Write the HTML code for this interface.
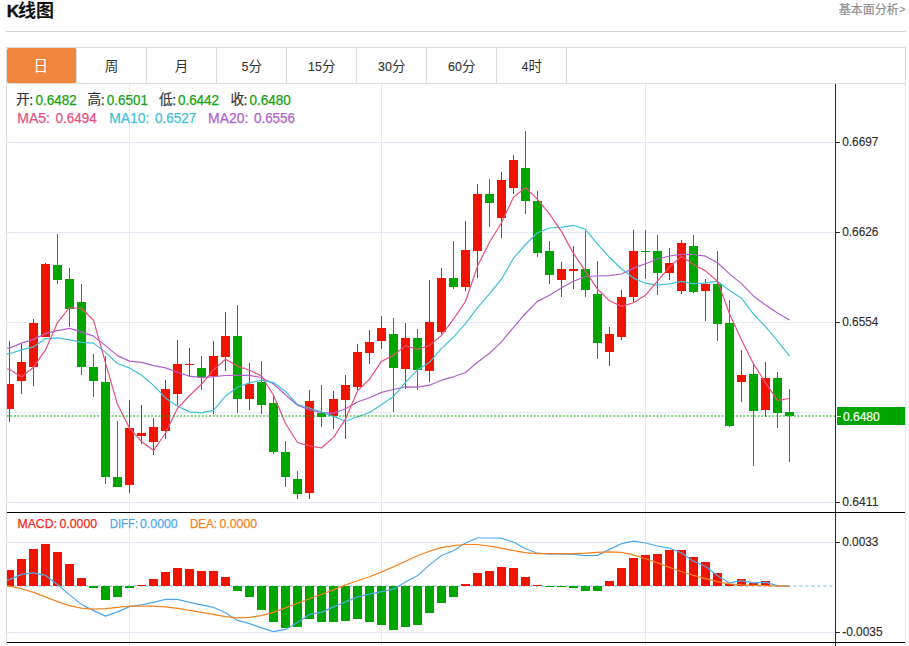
<!DOCTYPE html>
<html lang="zh-CN">
<head>
<meta charset="utf-8">
<title>K线图</title>
<style>
html,body{margin:0;padding:0;background:#fff;}
body{width:909px;height:646px;overflow:hidden;position:relative;font-family:"Liberation Sans",sans-serif;}
.rule{position:absolute;left:6px;top:31px;width:900px;height:1px;background:#d4d4d4;}
.tabs{position:absolute;left:6px;top:47px;width:898px;height:35px;border:1px solid #dcdcdc;background:#fff;}
.tab{position:absolute;top:0;width:69px;height:35px;border-right:1px solid #dcdcdc;}
.tab.on{background:#f0853d;border-radius:2px;}
svg.layer{position:absolute;left:0;top:0;}
</style>
</head>
<body>
<div class="rule"></div>
<div class="tabs">
<div class="tab on" style="left:0px"></div>
<div class="tab" style="left:70px"></div>
<div class="tab" style="left:140px"></div>
<div class="tab" style="left:210px"></div>
<div class="tab" style="left:280px"></div>
<div class="tab" style="left:350px"></div>
<div class="tab" style="left:420px"></div>
<div class="tab" style="left:490px"></div>
</div>
<svg class="layer" width="909" height="646" viewBox="0 0 909 646">
<g shape-rendering="crispEdges" fill="#e2ebf3">
<rect x="7" y="142" width="828" height="1"/>
<rect x="7" y="232" width="828" height="1"/>
<rect x="7" y="322" width="828" height="1"/>
<rect x="7" y="412" width="828" height="1"/>
<rect x="7" y="502" width="828" height="1"/>
<rect x="7" y="542" width="828" height="1"/>
<rect x="7" y="632" width="828" height="1"/>
<rect x="129" y="84" width="1" height="562"/>
<rect x="381" y="84" width="1" height="562"/>
<rect x="645" y="84" width="1" height="562"/>
</g>
<g shape-rendering="crispEdges">
<rect x="6" y="84" width="1" height="562" fill="#dcdcdc"/>
<rect x="905" y="84" width="1" height="562" fill="#e4e4e4"/>
</g>
<line x1="7.4" y1="586" x2="833" y2="586" stroke="#b4def5" stroke-width="2" stroke-dasharray="3 3"/>
<g shape-rendering="crispEdges">
<rect x="9" y="341" width="1" height="81" fill="#ee1400"/>
<rect x="7" y="384" width="7" height="25" fill="#ee1400"/>
<rect x="21" y="344" width="1" height="50" fill="#ee1400"/>
<rect x="17" y="362" width="9" height="19" fill="#ee1400"/>
<rect x="33" y="319" width="1" height="67" fill="#ee1400"/>
<rect x="29" y="323" width="9" height="44" fill="#ee1400"/>
<rect x="45" y="263" width="1" height="74" fill="#ee1400"/>
<rect x="41" y="264" width="9" height="73" fill="#ee1400"/>
<rect x="57" y="234" width="1" height="50" fill="#00a500"/>
<rect x="53" y="265" width="9" height="15" fill="#00a500"/>
<rect x="69" y="268" width="1" height="59" fill="#00a500"/>
<rect x="65" y="279" width="9" height="30" fill="#00a500"/>
<rect x="81" y="284" width="1" height="91" fill="#00a500"/>
<rect x="77" y="302" width="9" height="65" fill="#00a500"/>
<rect x="93" y="354" width="1" height="43" fill="#00a500"/>
<rect x="89" y="367" width="9" height="14" fill="#00a500"/>
<rect x="105" y="356" width="1" height="128" fill="#00a500"/>
<rect x="101" y="382" width="9" height="95" fill="#00a500"/>
<rect x="117" y="421" width="1" height="66" fill="#00a500"/>
<rect x="113" y="477" width="9" height="10" fill="#00a500"/>
<rect x="129" y="400" width="1" height="93" fill="#ee1400"/>
<rect x="125" y="428" width="9" height="57" fill="#ee1400"/>
<rect x="141" y="405" width="1" height="39" fill="#ee1400"/>
<rect x="137" y="433" width="9" height="3" fill="#ee1400"/>
<rect x="153" y="418" width="1" height="37" fill="#ee1400"/>
<rect x="149" y="427" width="9" height="15" fill="#ee1400"/>
<rect x="165" y="380" width="1" height="59" fill="#ee1400"/>
<rect x="161" y="389" width="9" height="42" fill="#ee1400"/>
<rect x="177" y="340" width="1" height="65" fill="#ee1400"/>
<rect x="173" y="364" width="9" height="30" fill="#ee1400"/>
<rect x="189" y="348" width="1" height="29" fill="#ee1400"/>
<rect x="185" y="364" width="9" height="1" fill="#ee1400"/>
<rect x="201" y="356" width="1" height="34" fill="#00a500"/>
<rect x="197" y="368" width="9" height="9" fill="#00a500"/>
<rect x="213" y="341" width="1" height="73" fill="#ee1400"/>
<rect x="209" y="356" width="9" height="20" fill="#ee1400"/>
<rect x="225" y="312" width="1" height="59" fill="#ee1400"/>
<rect x="221" y="336" width="9" height="21" fill="#ee1400"/>
<rect x="237" y="305" width="1" height="108" fill="#00a500"/>
<rect x="233" y="336" width="9" height="63" fill="#00a500"/>
<rect x="249" y="363" width="1" height="47" fill="#ee1400"/>
<rect x="245" y="384" width="9" height="15" fill="#ee1400"/>
<rect x="261" y="361" width="1" height="53" fill="#00a500"/>
<rect x="257" y="382" width="9" height="23" fill="#00a500"/>
<rect x="273" y="396" width="1" height="58" fill="#00a500"/>
<rect x="269" y="403" width="9" height="49" fill="#00a500"/>
<rect x="285" y="441" width="1" height="46" fill="#00a500"/>
<rect x="281" y="452" width="9" height="25" fill="#00a500"/>
<rect x="297" y="471" width="1" height="28" fill="#00a500"/>
<rect x="293" y="479" width="9" height="15" fill="#00a500"/>
<rect x="309" y="390" width="1" height="109" fill="#ee1400"/>
<rect x="305" y="401" width="9" height="92" fill="#ee1400"/>
<rect x="321" y="385" width="1" height="42" fill="#00a500"/>
<rect x="317" y="413" width="9" height="4" fill="#00a500"/>
<rect x="333" y="391" width="1" height="38" fill="#ee1400"/>
<rect x="329" y="399" width="9" height="17" fill="#ee1400"/>
<rect x="345" y="375" width="1" height="64" fill="#ee1400"/>
<rect x="341" y="385" width="9" height="15" fill="#ee1400"/>
<rect x="357" y="344" width="1" height="46" fill="#ee1400"/>
<rect x="353" y="352" width="9" height="35" fill="#ee1400"/>
<rect x="369" y="330" width="1" height="34" fill="#ee1400"/>
<rect x="365" y="342" width="9" height="11" fill="#ee1400"/>
<rect x="381" y="316" width="1" height="33" fill="#ee1400"/>
<rect x="377" y="328" width="9" height="13" fill="#ee1400"/>
<rect x="393" y="318" width="1" height="94" fill="#00a500"/>
<rect x="389" y="334" width="9" height="34" fill="#00a500"/>
<rect x="405" y="323" width="1" height="66" fill="#ee1400"/>
<rect x="401" y="338" width="9" height="31" fill="#ee1400"/>
<rect x="417" y="329" width="1" height="61" fill="#00a500"/>
<rect x="413" y="338" width="9" height="32" fill="#00a500"/>
<rect x="429" y="280" width="1" height="102" fill="#ee1400"/>
<rect x="425" y="322" width="9" height="49" fill="#ee1400"/>
<rect x="441" y="268" width="1" height="66" fill="#ee1400"/>
<rect x="437" y="278" width="9" height="54" fill="#ee1400"/>
<rect x="453" y="241" width="1" height="48" fill="#00a500"/>
<rect x="449" y="278" width="9" height="9" fill="#00a500"/>
<rect x="465" y="221" width="1" height="70" fill="#ee1400"/>
<rect x="461" y="250" width="9" height="37" fill="#ee1400"/>
<rect x="477" y="184" width="1" height="94" fill="#ee1400"/>
<rect x="473" y="194" width="9" height="57" fill="#ee1400"/>
<rect x="489" y="179" width="1" height="48" fill="#00a500"/>
<rect x="485" y="194" width="9" height="9" fill="#00a500"/>
<rect x="501" y="172" width="1" height="66" fill="#ee1400"/>
<rect x="497" y="180" width="9" height="38" fill="#ee1400"/>
<rect x="513" y="155" width="1" height="39" fill="#ee1400"/>
<rect x="509" y="160" width="9" height="28" fill="#ee1400"/>
<rect x="525" y="131" width="1" height="83" fill="#00a500"/>
<rect x="521" y="168" width="9" height="33" fill="#00a500"/>
<rect x="537" y="191" width="1" height="66" fill="#00a500"/>
<rect x="533" y="201" width="9" height="52" fill="#00a500"/>
<rect x="549" y="241" width="1" height="43" fill="#00a500"/>
<rect x="545" y="251" width="9" height="24" fill="#00a500"/>
<rect x="561" y="262" width="1" height="35" fill="#ee1400"/>
<rect x="557" y="269" width="9" height="11" fill="#ee1400"/>
<rect x="573" y="246" width="1" height="43" fill="#ee1400"/>
<rect x="569" y="269" width="9" height="2" fill="#ee1400"/>
<rect x="585" y="231" width="1" height="66" fill="#00a500"/>
<rect x="581" y="269" width="9" height="21" fill="#00a500"/>
<rect x="597" y="261" width="1" height="98" fill="#00a500"/>
<rect x="593" y="294" width="9" height="49" fill="#00a500"/>
<rect x="609" y="327" width="1" height="39" fill="#ee1400"/>
<rect x="605" y="334" width="9" height="18" fill="#ee1400"/>
<rect x="621" y="290" width="1" height="50" fill="#ee1400"/>
<rect x="617" y="297" width="9" height="40" fill="#ee1400"/>
<rect x="633" y="230" width="1" height="72" fill="#ee1400"/>
<rect x="629" y="251" width="9" height="46" fill="#ee1400"/>
<rect x="645" y="230" width="1" height="49" fill="#00a500"/>
<rect x="641" y="251" width="9" height="1" fill="#00a500"/>
<rect x="657" y="235" width="1" height="60" fill="#00a500"/>
<rect x="653" y="251" width="9" height="22" fill="#00a500"/>
<rect x="669" y="248" width="1" height="32" fill="#ee1400"/>
<rect x="665" y="263" width="9" height="10" fill="#ee1400"/>
<rect x="681" y="240" width="1" height="54" fill="#ee1400"/>
<rect x="677" y="243" width="9" height="48" fill="#ee1400"/>
<rect x="693" y="235" width="1" height="58" fill="#00a500"/>
<rect x="689" y="246" width="9" height="46" fill="#00a500"/>
<rect x="705" y="279" width="1" height="42" fill="#ee1400"/>
<rect x="701" y="284" width="9" height="7" fill="#ee1400"/>
<rect x="717" y="251" width="1" height="90" fill="#00a500"/>
<rect x="713" y="284" width="9" height="40" fill="#00a500"/>
<rect x="729" y="300" width="1" height="127" fill="#00a500"/>
<rect x="725" y="323" width="9" height="103" fill="#00a500"/>
<rect x="741" y="350" width="1" height="52" fill="#ee1400"/>
<rect x="737" y="375" width="9" height="7" fill="#ee1400"/>
<rect x="753" y="364" width="1" height="102" fill="#00a500"/>
<rect x="749" y="374" width="9" height="37" fill="#00a500"/>
<rect x="765" y="362" width="1" height="55" fill="#ee1400"/>
<rect x="761" y="378" width="9" height="32" fill="#ee1400"/>
<rect x="777" y="372" width="1" height="56" fill="#00a500"/>
<rect x="773" y="378" width="9" height="35" fill="#00a500"/>
<rect x="789" y="389" width="1" height="73" fill="#00a500"/>
<rect x="785" y="412" width="9" height="4" fill="#00a500"/>
</g>
<path d="M7.0 348.0 L9.5 348.1 L21.5 343.1 L33.5 339.4 L45.5 333.6 L57.5 330.6 L69.5 328.4 L81.5 331.9 L93.5 336.1 L105.5 345.6 L117.5 355.6 L129.5 361.1 L141.5 362.4 L153.5 365.6 L165.5 367.9 L177.5 372.3 L189.5 376.1 L201.5 377.6 L213.5 376.6 L225.5 375.5 L237.5 375.4 L249.5 375.4 L261.5 377.5 L273.5 384.0 L285.5 394.7 L297.5 405.3 L309.5 409.9 L321.5 412.4 L333.5 413.3 L345.5 408.7 L357.5 402.0 L369.5 397.7 L381.5 392.4 L393.5 389.5 L405.5 386.9 L417.5 387.2 L429.5 385.2 L441.5 380.2 L453.5 376.8 L465.5 372.5 L477.5 362.2 L489.5 353.2 L501.5 341.9 L513.5 327.3 L525.5 313.5 L537.5 301.4 L549.5 295.2 L561.5 287.8 L573.5 281.3 L585.5 276.5 L597.5 276.0 L609.5 275.6 L621.5 274.0 L633.5 268.1 L645.5 263.8 L657.5 259.0 L669.5 256.0 L681.5 254.3 L693.5 254.5 L705.5 256.2 L717.5 262.7 L729.5 273.9 L741.5 283.6 L753.5 296.1 L765.5 305.0 L777.5 313.0 L789.5 320.0" fill="none" stroke="#b25fcc" stroke-width="1.2" stroke-linejoin="round"/>
<path d="M7.0 353.8 L9.5 353.8 L21.5 349.9 L33.5 346.9 L45.5 338.6 L57.5 337.9 L69.5 339.9 L81.5 342.4 L93.5 343.1 L105.5 352.4 L117.5 363.5 L129.5 367.9 L141.5 375.0 L153.5 385.4 L165.5 397.9 L177.5 406.3 L189.5 411.9 L201.5 412.9 L213.5 410.3 L225.5 396.1 L237.5 387.2 L249.5 382.9 L261.5 380.1 L273.5 382.6 L285.5 391.4 L297.5 404.3 L309.5 408.0 L321.5 412.0 L333.5 416.4 L345.5 421.3 L357.5 416.7 L369.5 412.5 L381.5 404.7 L393.5 396.3 L405.5 382.4 L417.5 370.1 L429.5 362.3 L441.5 348.4 L453.5 337.2 L465.5 323.6 L477.5 307.7 L489.5 293.8 L501.5 279.0 L513.5 258.2 L525.5 244.5 L537.5 232.7 L549.5 228.0 L561.5 227.1 L573.5 225.3 L585.5 229.4 L597.5 244.2 L609.5 257.3 L621.5 269.0 L633.5 278.1 L645.5 283.2 L657.5 285.2 L669.5 283.9 L681.5 281.4 L693.5 283.6 L705.5 283.1 L717.5 281.2 L729.5 290.4 L741.5 298.2 L753.5 314.2 L765.5 326.7 L777.5 340.8 L789.5 356.1" fill="none" stroke="#3fc1dc" stroke-width="1.2" stroke-linejoin="round"/>
<path d="M7.0 369.0 L9.5 369.3 L21.5 377.0 L33.5 367.2 L45.5 349.9 L57.5 322.6 L69.5 307.5 L81.5 308.5 L93.5 320.2 L105.5 362.9 L117.5 404.3 L129.5 428.2 L141.5 441.5 L153.5 450.6 L165.5 433.0 L177.5 408.3 L189.5 395.5 L201.5 384.3 L213.5 370.0 L225.5 359.2 L237.5 366.1 L249.5 370.2 L261.5 375.9 L273.5 395.3 L285.5 423.5 L297.5 442.5 L309.5 445.8 L321.5 448.0 L333.5 437.4 L345.5 419.1 L357.5 390.9 L369.5 379.2 L381.5 361.4 L393.5 355.2 L405.5 345.8 L417.5 349.4 L429.5 345.5 L441.5 335.4 L453.5 319.2 L465.5 301.5 L477.5 266.1 L489.5 242.2 L501.5 222.7 L513.5 197.3 L525.5 187.6 L537.5 199.4 L549.5 213.8 L561.5 231.6 L573.5 253.4 L585.5 271.2 L597.5 289.1 L609.5 300.8 L621.5 306.4 L633.5 302.7 L645.5 295.2 L657.5 281.2 L669.5 267.1 L681.5 256.3 L693.5 264.5 L705.5 270.9 L717.5 281.2 L729.5 313.7 L741.5 340.1 L753.5 363.9 L765.5 382.6 L777.5 400.4 L789.5 398.5" fill="none" stroke="#e8507f" stroke-width="1.2" stroke-linejoin="round"/>
<g shape-rendering="crispEdges">
<rect x="7" y="570" width="7" height="16" fill="#ee1400"/>
<rect x="17" y="559" width="9" height="27" fill="#ee1400"/>
<rect x="29" y="549" width="9" height="37" fill="#ee1400"/>
<rect x="41" y="544" width="9" height="42" fill="#ee1400"/>
<rect x="53" y="552" width="9" height="34" fill="#ee1400"/>
<rect x="65" y="564" width="9" height="22" fill="#ee1400"/>
<rect x="77" y="578" width="9" height="8" fill="#ee1400"/>
<rect x="89" y="586" width="9" height="2" fill="#00a500"/>
<rect x="101" y="586" width="9" height="14" fill="#00a500"/>
<rect x="113" y="586" width="9" height="11" fill="#00a500"/>
<rect x="125" y="586" width="9" height="2" fill="#00a500"/>
<rect x="137" y="585" width="9" height="1" fill="#ee1400"/>
<rect x="149" y="579" width="9" height="7" fill="#ee1400"/>
<rect x="161" y="572" width="9" height="14" fill="#ee1400"/>
<rect x="173" y="568" width="9" height="18" fill="#ee1400"/>
<rect x="185" y="569" width="9" height="17" fill="#ee1400"/>
<rect x="197" y="571" width="9" height="15" fill="#ee1400"/>
<rect x="209" y="571" width="9" height="15" fill="#ee1400"/>
<rect x="221" y="577" width="9" height="9" fill="#ee1400"/>
<rect x="233" y="586" width="9" height="5" fill="#00a500"/>
<rect x="245" y="586" width="9" height="11" fill="#00a500"/>
<rect x="257" y="586" width="9" height="24" fill="#00a500"/>
<rect x="269" y="586" width="9" height="36" fill="#00a500"/>
<rect x="281" y="586" width="9" height="42" fill="#00a500"/>
<rect x="293" y="586" width="9" height="41" fill="#00a500"/>
<rect x="305" y="586" width="9" height="33" fill="#00a500"/>
<rect x="317" y="586" width="9" height="36" fill="#00a500"/>
<rect x="329" y="586" width="9" height="36" fill="#00a500"/>
<rect x="341" y="586" width="9" height="35" fill="#00a500"/>
<rect x="353" y="586" width="9" height="33" fill="#00a500"/>
<rect x="365" y="586" width="9" height="36" fill="#00a500"/>
<rect x="377" y="586" width="9" height="39" fill="#00a500"/>
<rect x="389" y="586" width="9" height="44" fill="#00a500"/>
<rect x="401" y="586" width="9" height="41" fill="#00a500"/>
<rect x="413" y="586" width="9" height="39" fill="#00a500"/>
<rect x="425" y="586" width="9" height="27" fill="#00a500"/>
<rect x="437" y="586" width="9" height="17" fill="#00a500"/>
<rect x="449" y="586" width="9" height="11" fill="#00a500"/>
<rect x="461" y="584" width="9" height="2" fill="#ee1400"/>
<rect x="473" y="573" width="9" height="13" fill="#ee1400"/>
<rect x="485" y="571" width="9" height="15" fill="#ee1400"/>
<rect x="497" y="567" width="9" height="19" fill="#ee1400"/>
<rect x="509" y="568" width="9" height="18" fill="#ee1400"/>
<rect x="521" y="577" width="9" height="9" fill="#ee1400"/>
<rect x="533" y="585" width="9" height="1" fill="#ee1400"/>
<rect x="545" y="586" width="9" height="1" fill="#00a500"/>
<rect x="557" y="586" width="9" height="1" fill="#00a500"/>
<rect x="569" y="586" width="9" height="2" fill="#00a500"/>
<rect x="581" y="586" width="9" height="5" fill="#00a500"/>
<rect x="593" y="586" width="9" height="5" fill="#00a500"/>
<rect x="605" y="581" width="9" height="5" fill="#ee1400"/>
<rect x="617" y="568" width="9" height="18" fill="#ee1400"/>
<rect x="629" y="558" width="9" height="28" fill="#ee1400"/>
<rect x="641" y="555" width="9" height="31" fill="#ee1400"/>
<rect x="653" y="554" width="9" height="32" fill="#ee1400"/>
<rect x="665" y="550" width="9" height="36" fill="#ee1400"/>
<rect x="677" y="550" width="9" height="36" fill="#ee1400"/>
<rect x="689" y="557" width="9" height="29" fill="#ee1400"/>
<rect x="701" y="562" width="9" height="24" fill="#ee1400"/>
<rect x="713" y="573" width="9" height="13" fill="#ee1400"/>
<rect x="725" y="584" width="9" height="2" fill="#ee1400"/>
<rect x="737" y="579" width="9" height="7" fill="#ee1400"/>
<rect x="749" y="583" width="9" height="3" fill="#ee1400"/>
<rect x="761" y="581" width="9" height="5" fill="#ee1400"/>
</g>
<path d="M7.0 579.8 L9.5 579.6 L21.5 574.4 L33.5 572.9 L45.5 575.4 L57.5 584.4 L69.5 594.9 L81.5 604.4 L93.5 610.6 L105.5 616.1 L117.5 611.9 L129.5 606.6 L141.5 604.9 L153.5 602.4 L165.5 599.4 L177.5 599.4 L189.5 602.4 L201.5 604.9 L213.5 607.4 L225.5 612.8 L237.5 620.4 L249.5 623.6 L261.5 627.9 L273.5 631.6 L285.5 629.4 L297.5 622.4 L309.5 614.4 L321.5 612.4 L333.5 606.9 L345.5 601.9 L357.5 596.9 L369.5 594.2 L381.5 591.7 L393.5 589.2 L405.5 581.9 L417.5 575.7 L429.5 564.9 L441.5 555.5 L453.5 550.7 L465.5 543.0 L477.5 538.0 L489.5 538.0 L501.5 538.2 L513.5 542.0 L525.5 548.7 L537.5 553.2 L549.5 554.2 L561.5 554.2 L573.5 554.4 L585.5 555.7 L597.5 555.4 L609.5 549.4 L621.5 543.7 L633.5 541.2 L645.5 543.0 L657.5 546.0 L669.5 548.2 L681.5 552.9 L693.5 561.2 L705.5 566.2 L717.5 575.7 L729.5 582.9 L741.5 580.7 L753.5 582.9 L765.5 582.4 L777.5 585.7 L789.5 586.2" fill="none" stroke="#4fa8ee" stroke-width="1.2" stroke-linejoin="round"/>
<path d="M7.0 585.9 L9.5 586.2 L21.5 588.7 L33.5 592.4 L45.5 596.9 L57.5 601.6 L69.5 605.6 L81.5 608.1 L93.5 609.1 L105.5 608.6 L117.5 607.4 L129.5 606.1 L141.5 606.1 L153.5 606.1 L165.5 606.9 L177.5 608.4 L189.5 610.4 L201.5 612.4 L213.5 614.4 L225.5 616.6 L237.5 617.9 L249.5 617.4 L261.5 615.6 L273.5 612.4 L285.5 607.9 L297.5 603.2 L309.5 598.7 L321.5 594.2 L333.5 589.9 L345.5 584.9 L357.5 580.7 L369.5 576.7 L381.5 571.9 L393.5 566.9 L405.5 561.2 L417.5 555.7 L429.5 551.2 L441.5 547.7 L453.5 545.7 L465.5 544.5 L477.5 544.5 L489.5 546.2 L501.5 548.2 L513.5 550.7 L525.5 552.7 L537.5 553.7 L549.5 553.7 L561.5 553.7 L573.5 553.7 L585.5 553.2 L597.5 552.4 L609.5 551.9 L621.5 552.4 L633.5 554.9 L645.5 558.7 L657.5 562.9 L669.5 567.4 L681.5 571.7 L693.5 575.4 L705.5 578.7 L717.5 581.7 L729.5 583.9 L741.5 584.9 L753.5 585.4 L765.5 585.7 L777.5 586.2 L789.5 586.2" fill="none" stroke="#f58220" stroke-width="1.2" stroke-linejoin="round"/>
<line x1="6.8" y1="416" x2="835" y2="416" stroke="rgba(0,162,0,0.48)" stroke-width="2" stroke-dasharray="2 1.61"/>
<g shape-rendering="crispEdges" fill="#000">
<rect x="835" y="84" width="1" height="562" fill="#2a2a2a"/>
<rect x="7" y="512" width="898" height="1"/>
<rect x="7" y="642" width="898" height="1"/>
<rect x="836" y="142" width="4" height="1" fill="#2a2a2a"/>
<rect x="836" y="232" width="4" height="1" fill="#2a2a2a"/>
<rect x="836" y="322" width="4" height="1" fill="#2a2a2a"/>
<rect x="836" y="502" width="4" height="1" fill="#2a2a2a"/>
<rect x="836" y="542" width="4" height="1" fill="#2a2a2a"/>
<rect x="836" y="632" width="4" height="1" fill="#2a2a2a"/>
</g>
<rect x="837" y="407" width="68" height="18" fill="#00a500" shape-rendering="crispEdges"/>
<rect x="837" y="416" width="4" height="1" fill="#fff" shape-rendering="crispEdges"/>
<text x="842.2" y="146.4" font-size="12.7" fill="#2b2b2b" font-family="Liberation Sans, sans-serif" stroke="#2b2b2b" stroke-width="0.12" textLength="36.2" lengthAdjust="spacingAndGlyphs">0.6697</text>
<text x="842.2" y="236.4" font-size="12.7" fill="#2b2b2b" font-family="Liberation Sans, sans-serif" stroke="#2b2b2b" stroke-width="0.12" textLength="36.2" lengthAdjust="spacingAndGlyphs">0.6626</text>
<text x="842.2" y="326.4" font-size="12.7" fill="#2b2b2b" font-family="Liberation Sans, sans-serif" stroke="#2b2b2b" stroke-width="0.12" textLength="36.2" lengthAdjust="spacingAndGlyphs">0.6554</text>
<text x="842.2" y="506.4" font-size="12.7" fill="#2b2b2b" font-family="Liberation Sans, sans-serif" stroke="#2b2b2b" stroke-width="0.12" textLength="36.2" lengthAdjust="spacingAndGlyphs">0.6411</text>
<text x="842.2" y="546.4" font-size="12.7" fill="#2b2b2b" font-family="Liberation Sans, sans-serif" stroke="#2b2b2b" stroke-width="0.12" textLength="36.2" lengthAdjust="spacingAndGlyphs">0.0033</text>
<text x="842.2" y="636.4" font-size="12.7" fill="#2b2b2b" font-family="Liberation Sans, sans-serif" stroke="#2b2b2b" stroke-width="0.12" textLength="40.4" lengthAdjust="spacingAndGlyphs">-0.0035</text>
<text x="842.9" y="420.5" font-size="12.8" fill="#fff" font-family="Liberation Sans, sans-serif" stroke="#fff" stroke-width="0.2" textLength="36.9" lengthAdjust="spacingAndGlyphs">0.6480</text>
<text x="16.1" y="104.2" font-size="13.6" fill="#333" stroke="#333" stroke-width="0.2" font-family="Liberation Sans, Noto Sans CJK SC, sans-serif">开</text>
<text x="29.2" y="104.5" font-size="14.2" fill="#333" font-family="Liberation Sans, sans-serif" stroke="#333" stroke-width="0.25">:</text>
<text x="35.6" y="104.6" font-size="14.4" fill="#12a312" font-family="Liberation Sans, sans-serif" stroke="#12a312" stroke-width="0.25" textLength="41.2" lengthAdjust="spacingAndGlyphs">0.6482</text>
<text x="87.6" y="104.2" font-size="13.6" fill="#333" stroke="#333" stroke-width="0.2" font-family="Liberation Sans, Noto Sans CJK SC, sans-serif">高</text>
<text x="100.7" y="104.5" font-size="14.2" fill="#333" font-family="Liberation Sans, sans-serif" stroke="#333" stroke-width="0.25">:</text>
<text x="106.7" y="104.6" font-size="14.4" fill="#12a312" font-family="Liberation Sans, sans-serif" stroke="#12a312" stroke-width="0.25" textLength="41.2" lengthAdjust="spacingAndGlyphs">0.6501</text>
<text x="159.1" y="104.2" font-size="13.6" fill="#333" stroke="#333" stroke-width="0.2" font-family="Liberation Sans, Noto Sans CJK SC, sans-serif">低</text>
<text x="172.2" y="104.5" font-size="14.2" fill="#333" font-family="Liberation Sans, sans-serif" stroke="#333" stroke-width="0.25">:</text>
<text x="177.9" y="104.6" font-size="14.4" fill="#12a312" font-family="Liberation Sans, sans-serif" stroke="#12a312" stroke-width="0.25" textLength="41.2" lengthAdjust="spacingAndGlyphs">0.6442</text>
<text x="230.5" y="104.2" font-size="13.6" fill="#333" stroke="#333" stroke-width="0.2" font-family="Liberation Sans, Noto Sans CJK SC, sans-serif">收</text>
<text x="243.6" y="104.5" font-size="14.2" fill="#333" font-family="Liberation Sans, sans-serif" stroke="#333" stroke-width="0.25">:</text>
<text x="249.5" y="104.6" font-size="14.4" fill="#12a312" font-family="Liberation Sans, sans-serif" stroke="#12a312" stroke-width="0.25" textLength="41.2" lengthAdjust="spacingAndGlyphs">0.6480</text>
<text x="17.3" y="123.2" font-size="14.4" fill="#e8507f" font-family="Liberation Sans, sans-serif" stroke="#e8507f" stroke-width="0.25" textLength="32.6" lengthAdjust="spacingAndGlyphs">MA5:</text>
<text x="55.6" y="123.2" font-size="14.4" fill="#e8507f" font-family="Liberation Sans, sans-serif" stroke="#e8507f" stroke-width="0.25" textLength="41.2" lengthAdjust="spacingAndGlyphs">0.6494</text>
<text x="109.2" y="123.2" font-size="14.4" fill="#3fc1dc" font-family="Liberation Sans, sans-serif" stroke="#3fc1dc" stroke-width="0.25" textLength="40.2" lengthAdjust="spacingAndGlyphs">MA10:</text>
<text x="155.0" y="123.2" font-size="14.4" fill="#3fc1dc" font-family="Liberation Sans, sans-serif" stroke="#3fc1dc" stroke-width="0.25" textLength="41.2" lengthAdjust="spacingAndGlyphs">0.6527</text>
<text x="208.1" y="123.2" font-size="14.4" fill="#b25fcc" font-family="Liberation Sans, sans-serif" stroke="#b25fcc" stroke-width="0.25" textLength="40.2" lengthAdjust="spacingAndGlyphs">MA20:</text>
<text x="253.9" y="123.2" font-size="14.4" fill="#b25fcc" font-family="Liberation Sans, sans-serif" stroke="#b25fcc" stroke-width="0.25" textLength="41.2" lengthAdjust="spacingAndGlyphs">0.6556</text>
<text x="17.4" y="528.3" font-size="12.8" fill="#ee2a1a" font-family="Liberation Sans, sans-serif" stroke="#ee2a1a" stroke-width="0.25" textLength="39.6" lengthAdjust="spacingAndGlyphs">MACD:</text>
<text x="59.4" y="528.3" font-size="12.8" fill="#ee2a1a" font-family="Liberation Sans, sans-serif" stroke="#ee2a1a" stroke-width="0.25" textLength="37.7" lengthAdjust="spacingAndGlyphs">0.0000</text>
<text x="109.7" y="528.3" font-size="12.8" fill="#4fa8ee" font-family="Liberation Sans, sans-serif" stroke="#4fa8ee" stroke-width="0.25" textLength="28.4" lengthAdjust="spacingAndGlyphs">DIFF:</text>
<text x="140.0" y="528.3" font-size="12.8" fill="#4fa8ee" font-family="Liberation Sans, sans-serif" stroke="#4fa8ee" stroke-width="0.25" textLength="37.7" lengthAdjust="spacingAndGlyphs">0.0000</text>
<text x="190.0" y="528.3" font-size="12.8" fill="#f58220" font-family="Liberation Sans, sans-serif" stroke="#f58220" stroke-width="0.25" textLength="27.0" lengthAdjust="spacingAndGlyphs">DEA:</text>
<text x="219.4" y="528.3" font-size="12.8" fill="#f58220" font-family="Liberation Sans, sans-serif" stroke="#f58220" stroke-width="0.25" textLength="37.7" lengthAdjust="spacingAndGlyphs">0.0000</text>
<text x="6.8" y="16.6" font-size="17.2" fill="#111" stroke="#111" stroke-width="0.4" font-weight="bold" font-family="Liberation Sans, sans-serif">K</text>
<text x="18" y="17" font-size="18" font-weight="bold" fill="#111" font-family="Liberation Sans, Noto Sans CJK SC, sans-serif">线图</text>
<text x="838.7" y="14" font-size="12" fill="#939393" stroke="#939393" stroke-width="0.25" font-family="Liberation Sans, Noto Sans CJK SC, sans-serif">基本面分析</text>
<text x="899.6" y="13.2" font-size="10" fill="#939393" font-family="Liberation Sans, sans-serif" stroke="#939393" stroke-width="0.25">&gt;</text>
<text x="33.6" y="71.1" font-size="14.5" fill="#fff" font-family="Liberation Sans, Noto Sans CJK SC, sans-serif">日</text>
<text x="104.75" y="71.2" font-size="13.5" fill="#333" font-family="Liberation Sans, Noto Sans CJK SC, sans-serif">周</text>
<text x="174.75" y="71.2" font-size="13.5" fill="#333" font-family="Liberation Sans, Noto Sans CJK SC, sans-serif">月</text>
<text x="241.7" y="71.1" font-size="13.5" fill="#333" font-family="Liberation Sans, sans-serif" stroke="#333" stroke-width="0.15" textLength="6.6" lengthAdjust="spacingAndGlyphs">5</text>
<text x="248.4" y="71.2" font-size="13.5" fill="#333" font-family="Liberation Sans, Noto Sans CJK SC, sans-serif">分</text>
<text x="308.1" y="71.1" font-size="13.5" fill="#333" font-family="Liberation Sans, sans-serif" stroke="#333" stroke-width="0.15" textLength="13.8" lengthAdjust="spacingAndGlyphs">15</text>
<text x="322" y="71.2" font-size="13.5" fill="#333" font-family="Liberation Sans, Noto Sans CJK SC, sans-serif">分</text>
<text x="378.1" y="71.1" font-size="13.5" fill="#333" font-family="Liberation Sans, sans-serif" stroke="#333" stroke-width="0.15" textLength="13.8" lengthAdjust="spacingAndGlyphs">30</text>
<text x="392" y="71.2" font-size="13.5" fill="#333" font-family="Liberation Sans, Noto Sans CJK SC, sans-serif">分</text>
<text x="448.1" y="71.1" font-size="13.5" fill="#333" font-family="Liberation Sans, sans-serif" stroke="#333" stroke-width="0.15" textLength="13.8" lengthAdjust="spacingAndGlyphs">60</text>
<text x="462" y="71.2" font-size="13.5" fill="#333" font-family="Liberation Sans, Noto Sans CJK SC, sans-serif">分</text>
<text x="521.7" y="71.1" font-size="13.5" fill="#333" font-family="Liberation Sans, sans-serif" stroke="#333" stroke-width="0.15" textLength="6.6" lengthAdjust="spacingAndGlyphs">4</text>
<text x="528.4" y="71.2" font-size="13.5" fill="#333" font-family="Liberation Sans, Noto Sans CJK SC, sans-serif">时</text>
</svg>
</body>
</html>
